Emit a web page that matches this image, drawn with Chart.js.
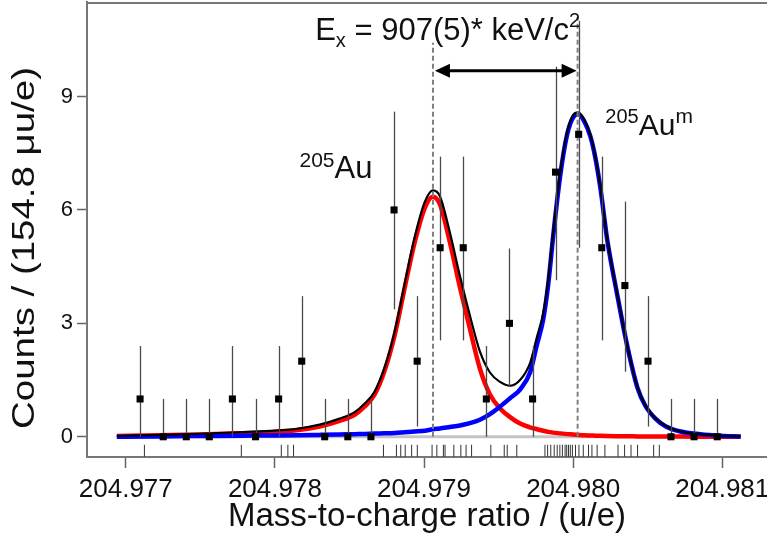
<!DOCTYPE html>
<html>
<head>
<meta charset="utf-8">
<title>205Au mass spectrum</title>
<script src="https://cdn.jsdelivr.net/npm/chart.js@4.4.1/dist/chart.umd.min.js"></script>
<style>
  html, body { margin: 0; padding: 0; background: #fff; }
  canvas { display: block; }
</style>
</head>
<body>
<canvas id="massChart" width="767" height="539"></canvas>
<script>
// histogram bins (u/e) and counts per 154.8 µu/e
const binCenters = [204.977096, 204.977251, 204.977406, 204.977560, 204.977715, 204.977870,
  204.978025, 204.978180, 204.978334, 204.978489, 204.978644, 204.978799, 204.978954,
  204.979108, 204.979263, 204.979418, 204.979573, 204.979728, 204.979882, 204.980037,
  204.980192, 204.980347, 204.980502, 204.980656, 204.980811, 204.980966];
const counts  = [1, 0, 0, 0, 1, 0, 1, 2, 0, 0, 0, 6, 2, 5, 5, 1, 3, 1, 7, 8, 5, 4, 2, 0, 0, 0];
const errLow  = [1, 0, 0, 0, 1, 0, 1, 1.73, 0, 0, 0, 2.63, 1.73, 2.45, 2.45, 1, 1.68, 1, 2.86, 3, 2.45, 2.28, 1.73, 0, 0, 0];
const errHigh = [1.4, 1, 1, 1, 1.4, 1, 1.4, 1.72, 1, 1, 1, 2.6, 1.72, 2.41, 2.41, 1.4, 1.98, 1.4, 2.79, 3, 2.41, 2.22, 1.72, 1, 1, 1];

// fit curves
const curveX = [204.97694, 204.977224, 204.977493, 204.977762, 204.977963, 204.978145, 204.978300,
  204.978434, 204.978535, 204.978602, 204.978669, 204.978736, 204.978804, 204.978871, 204.978938,
  204.979005, 204.979059, 204.979106, 204.979173, 204.979241, 204.979308, 204.979375, 204.979442,
  204.979510, 204.979577, 204.979644, 204.979711, 204.979758, 204.979799, 204.979832, 204.979866,
  204.979913, 204.979960, 204.980000, 204.980034, 204.980074, 204.980115, 204.980148, 204.980182,
  204.980229, 204.980296, 204.980363, 204.980431, 204.980484, 204.980552, 204.980619, 204.980720,
  204.980854, 204.980989, 204.981123];
const groundFit = [0.02, 0.04, 0.06, 0.09, 0.12, 0.17, 0.27, 0.42, 0.58, 0.8, 1.12, 1.75, 2.7, 3.95,
  5.15, 6.05, 6.35, 6.15, 5.15, 3.95, 2.85, 1.8, 1.12, 0.75, 0.52, 0.35, 0.25, 0.2, 0.16, 0.13, 0.11,
  0.09, 0.07, 0.06, 0.05, 0.04, 0.035, 0.03, 0.025, 0.02, 0.015, 0.012, 0.01, 0.008, 0.006, 0.005,
  0.004, 0.002, 0.001, 0];
const isomerFit = [0, 0.01, 0.02, 0.03, 0.035, 0.04, 0.05, 0.06, 0.07, 0.075, 0.085, 0.09, 0.1, 0.12,
  0.14, 0.16, 0.2, 0.22, 0.26, 0.3, 0.36, 0.45, 0.6, 0.8, 1.02, 1.25, 1.7, 2.45, 3.1, 4.0, 5.3, 6.9,
  8.0, 8.45, 8.53, 8.35, 7.95, 7.4, 6.6, 5.2, 3.75, 2.4, 1.3, 0.82, 0.48, 0.28, 0.14, 0.07, 0.03, 0.01];
const totalFit = [0.02, 0.05, 0.08, 0.12, 0.155, 0.21, 0.32, 0.48, 0.65, 0.88, 1.2, 1.84, 2.8, 4.07,
  5.29, 6.21, 6.52, 6.37, 5.41, 4.25, 3.2, 2.25, 1.7, 1.45, 1.35, 1.5, 1.95, 2.65, 3.26, 4.13, 5.41,
  6.99, 8.07, 8.51, 8.58, 8.39, 7.99, 7.43, 6.63, 5.22, 3.77, 2.41, 1.31, 0.83, 0.49, 0.29, 0.14,
  0.07, 0.03, 0.01];

// single ion events (rug at the bottom)
const rugEvents = [204.977125, 204.977775, 204.978043, 204.978087, 204.978125, 204.978728,
  204.978815, 204.978844, 204.978874, 204.978917, 204.978955, 204.979054, 204.979086, 204.979130,
  204.979141, 204.979200, 204.979247, 204.979282, 204.979319, 204.979448, 204.979538, 204.979558,
  204.979622, 204.979811, 204.979829, 204.979850, 204.979873, 204.979893, 204.979911, 204.979928,
  204.979946, 204.979957, 204.979969, 204.979981, 204.979995, 204.980016, 204.980039, 204.980068,
  204.980103, 204.980126, 204.980161, 204.980213, 204.980301, 204.980345, 204.980388, 204.980432,
  204.980540, 204.980578];
const rugLevel = -0.37;

// peak centres, arrow and labels
const peakGround = 204.97906;
const peakIsomer = 204.98003;
const markerTop = [10.42, 11.1];
const arrowY = 9.68;
const fitRange = [204.97694, 204.98112];

const xTicks = [204.977, 204.978, 204.979, 204.980, 204.981];
const yTicks = [0, 3, 6, 9];
const xRange = [204.97674, 204.98130];
const yRange = [-0.535, 11.5];

const FONT = '"Liberation Sans", Arial, sans-serif';

function pairs(xs, ys) {
  return xs.map((v, i) => ({ x: v, y: ys[i] }));
}

function drawRich(ctx, parts, x0, y0) {
  let cx = x0;
  parts.forEach(p => {
    ctx.font = p.size + 'px ' + FONT;
    ctx.fillText(p.text, cx, y0 + (p.dy || 0));
    cx += ctx.measureText(p.text).width;
  });
}

const overlayPlugin = {
  id: 'overlay',
  afterDatasetDraw(chart, args) {
    if (chart.data.datasets[args.index].label !== 'Total fit') return;
    const { ctx, scales: { x, y } } = chart;
    ctx.save();
    ctx.strokeStyle = '#4a4a4a';
    ctx.lineWidth = 1.3;
    binCenters.forEach((c, i) => {
      const px = Math.round(x.getPixelForValue(c)) + 0.5;
      ctx.beginPath();
      ctx.moveTo(px, y.getPixelForValue(counts[i] - errLow[i]));
      ctx.lineTo(px, y.getPixelForValue(counts[i] + errHigh[i]));
      ctx.stroke();
    });
    ctx.restore();
  },
  afterDraw(chart) {
    const { ctx, chartArea, scales: { x, y } } = chart;
    ctx.save();

    // top frame line
    ctx.strokeStyle = '#777';
    ctx.lineWidth = 2;
    ctx.beginPath();
    ctx.moveTo(chartArea.left, chartArea.top + 1);
    ctx.lineTo(chartArea.right, chartArea.top + 1);
    ctx.stroke();

    // double arrow between the peaks
    const ya = y.getPixelForValue(arrowY);
    const x1 = x.getPixelForValue(peakGround) + 2;
    const x2 = x.getPixelForValue(peakIsomer) - 1;
    ctx.strokeStyle = '#000';
    ctx.fillStyle = '#000';
    ctx.lineWidth = 3;
    ctx.beginPath();
    ctx.moveTo(x1 + 10, ya);
    ctx.lineTo(x2 - 10, ya);
    ctx.stroke();
    ctx.beginPath();
    ctx.moveTo(x1, ya);
    ctx.lineTo(x1 + 15, ya - 7);
    ctx.lineTo(x1 + 15, ya + 7);
    ctx.closePath();
    ctx.fill();
    ctx.beginPath();
    ctx.moveTo(x2, ya);
    ctx.lineTo(x2 - 15, ya - 7);
    ctx.lineTo(x2 - 15, ya + 7);
    ctx.closePath();
    ctx.fill();

    // labels
    ctx.fillStyle = '#111';
    ctx.textBaseline = 'alphabetic';
    ctx.textAlign = 'left';
    drawRich(ctx, [
      { text: 'E', size: 31 },
      { text: 'x', size: 20, dy: 7 },
      { text: ' = 907(5)* keV/c', size: 31 },
      { text: '2', size: 20, dy: -13 }
    ], x.getPixelForValue(204.978270), y.getPixelForValue(10.5));

    drawRich(ctx, [
      { text: '205', size: 21, dy: -11 },
      { text: 'Au', size: 31 }
    ], x.getPixelForValue(204.978165), y.getPixelForValue(6.84));

    drawRich(ctx, [
      { text: '205', size: 20, dy: -12 },
      { text: 'Au', size: 30 },
      { text: 'm', size: 21, dy: -12 }
    ], x.getPixelForValue(204.980216), y.getPixelForValue(7.98));

    // y axis title (slightly stretched along its length, like the original)
    ctx.translate(25, 248);
    ctx.rotate(-Math.PI / 2);
    ctx.scale(1.24, 1);
    ctx.textAlign = 'center';
    ctx.textBaseline = 'middle';
    ctx.font = '31px ' + FONT;
    ctx.fillText('Counts / (154.8 \u03bcu/e)', 0, 0);
    ctx.restore();
  }
};

const ctx = document.getElementById('massChart').getContext('2d');

new Chart(ctx, {
  type: 'scatter',
  data: {
    datasets: [
      {
        label: 'Data',
        data: pairs(binCenters, counts),
        pointStyle: 'rect',
        pointRadius: 5,
        pointHoverRadius: 5,
        backgroundColor: '#000',
        borderColor: '#000',
        borderWidth: 0
      },
      {
        label: 'Events',
        data: rugEvents.map(v => ({ x: v, y: rugLevel })),
        pointStyle: 'line',
        rotation: 90,
        pointRadius: 6,
        borderColor: '#333',
        borderWidth: 1
      },
      {
        label: 'Ground marker',
        data: [{ x: peakGround, y: 0 }, { x: peakGround, y: markerTop[0] }],
        showLine: true,
        borderColor: '#808080',
        borderWidth: 2,
        borderDash: [5, 3],
        pointRadius: 0
      },
      {
        label: 'Isomer marker',
        data: [{ x: peakIsomer, y: 0 }, { x: peakIsomer, y: markerTop[1] }],
        showLine: true,
        borderColor: '#808080',
        borderWidth: 2,
        borderDash: [5, 3],
        pointRadius: 0
      },
      {
        label: 'Total fit',
        data: pairs(curveX, totalFit),
        showLine: true,
        borderColor: '#000',
        borderWidth: 2.2,
        pointRadius: 0,
        cubicInterpolationMode: 'monotone'
      },
      {
        label: '205Aum fit',
        data: pairs(curveX, isomerFit),
        showLine: true,
        borderColor: '#0000ff',
        borderWidth: 4.5,
        pointRadius: 0,
        cubicInterpolationMode: 'monotone'
      },
      {
        label: '205Au fit',
        data: pairs(curveX, groundFit),
        showLine: true,
        borderColor: '#ff0000',
        borderWidth: 4.5,
        pointRadius: 0,
        cubicInterpolationMode: 'monotone'
      },
      {
        label: 'Baseline',
        data: [{ x: fitRange[0], y: 0 }, { x: fitRange[1], y: 0 }],
        showLine: true,
        borderColor: '#c4c4c4',
        borderWidth: 3,
        pointRadius: 0
      }
    ]
  },
  options: {
    responsive: false,
    animation: false,
    layout: { autoPadding: false, padding: { top: 2, right: 0, left: 0, bottom: 0 } },
    plugins: {
      legend: { display: false },
      tooltip: { enabled: false }
    },
    scales: {
      x: {
        type: 'linear',
        min: xRange[0],
        max: xRange[1],
        afterBuildTicks: scale => { scale.ticks = xTicks.map(v => ({ value: v })); },
        afterFit: scale => {
          scale.height = 82;
          scale.paddingLeft = 0;
          scale.paddingRight = 0;
        },
        ticks: {
          color: '#111',
          font: { family: FONT, size: 26 },
          padding: 6,
          maxRotation: 0,
          callback: v => v.toFixed(3)
        },
        grid: {
          drawOnChartArea: false,
          drawTicks: true,
          tickLength: 11,
          tickColor: '#666',
          tickWidth: 1.5
        },
        border: { color: '#777', width: 2 },
        title: {
          display: true,
          text: 'Mass-to-charge ratio / (u/e)',
          color: '#111',
          font: { family: FONT, size: 33 },
          padding: { top: 0, bottom: 2 }
        }
      },
      y: {
        type: 'linear',
        min: yRange[0],
        max: yRange[1],
        afterBuildTicks: scale => { scale.ticks = yTicks.map(v => ({ value: v })); },
        afterFit: scale => {
          scale.width = 87;
          scale.paddingTop = 0;
          scale.paddingBottom = 0;
        },
        ticks: {
          color: '#111',
          font: { family: FONT, size: 22 },
          padding: 4
        },
        grid: {
          drawOnChartArea: false,
          drawTicks: true,
          tickLength: 10,
          tickColor: '#666',
          tickWidth: 1.5
        },
        border: { color: '#777', width: 2 }
      }
    }
  },
  plugins: [overlayPlugin]
});
</script>
</body>
</html>
